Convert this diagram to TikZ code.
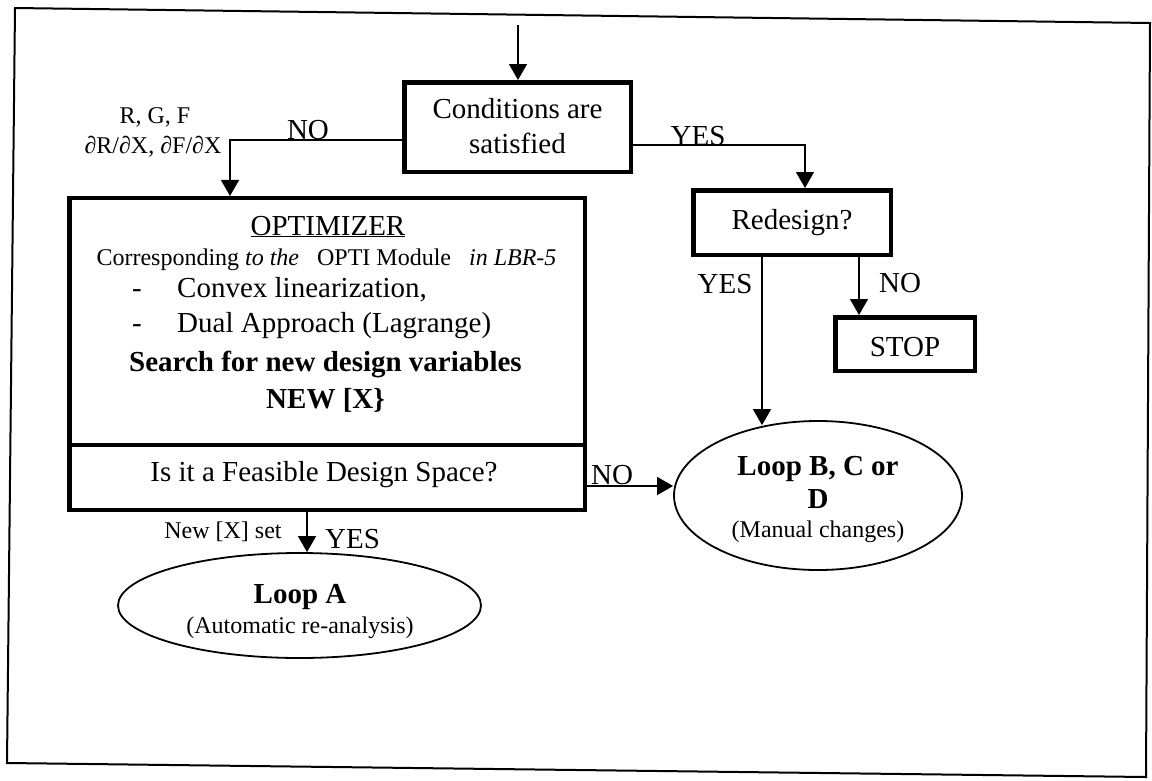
\documentclass[tikz,border=0pt]{standalone}
\usepackage{fontspec}
\setmainfont{Liberation Serif}
\usetikzlibrary{arrows.meta,shapes.geometric}
\newcommand\fbig{\fontsize{29}{35}\selectfont}
\newcommand\fsmall{\fontsize{24}{29}\selectfont}
\begin{document}
\begin{tikzpicture}[x=1pt,y=-1pt,
  box/.style={draw, rectangle, line width=4.5pt, inner sep=0pt},
  oval/.style={draw, ellipse, line width=1.8pt, inner sep=0pt},
  txt/.style={inner sep=0pt, anchor=base, font=\fbig},
  small/.style={font=\fsmall},
  bold/.style={font=\fbig\bfseries},
  arr/.style={line width=1.4pt, -{Triangle[length=16pt,width=18pt]}},
  frame/.style={line width=2pt, line join=miter}]
\useasboundingbox (0,0) rectangle (1152,780);
\draw[frame] (15,8) -- (1150,23) -- (1146,777) -- (7,763) -- cycle;

% boxes
\node[box, minimum width=226.5pt, minimum height=89.5pt] (cond) at (517.5,127) {};
\node[txt] (condA) at (517.5,118) {Conditions are};
\node[txt] (condB) at (517.5,153) {satisfied};

\node[box, minimum width=197.5pt, minimum height=64.5pt] (red) at (792,222.5) {};
\node[txt] (redT) at (792,229) {Redesign?};

\node[box, minimum width=139.5pt, minimum height=53.5pt] (stop) at (905,344) {};
\node[txt] (stopT) at (905,356) {STOP};

\node[box, minimum width=515.5pt, minimum height=246.75pt] (opt) at (327,321.6) {};
\node[box, minimum width=515.5pt, minimum height=64.75pt] (feas) at (327,477.4) {};

\node[txt] (optT) at (328,235) {\underline{OPTIMIZER}};
\node[txt, small] (corr) at (326.5,265) {Corresponding \textit{to the}\hspace{18pt}OPTI Module\hspace{18pt}\textit{in LBR-5}};
\node[txt] (d1) at (137,297) {-};
\node[txt, anchor=base west] (l1) at (177,297) {Convex linearization,};
\node[txt] (d2) at (137,332) {-};
\node[txt, anchor=base west] (l2) at (177,332) {Dual Approach (Lagrange)};
\node[txt, bold] (srch) at (325.5,371) {Search for new design variables};
\node[txt, bold] (newx) at (325.5,408) {NEW [X\}};
\node[txt] (feasT) at (324,481) {Is it a Feasible Design Space?};

% ellipses
\node[oval, minimum width=288pt, minimum height=149pt] (lpb) at (818,495.5) {};
\node[txt, bold] (lpbA) at (818,475) {Loop B, C or};
\node[txt, bold] (lpbB) at (818,508) {D};
\node[txt, small] (lpbC) at (818,537) {(Manual changes)};

\node[oval, minimum width=363pt, minimum height=105pt] (lpa) at (299.5,605.5) {};
\node[txt, bold] (lpaA) at (300,603) {Loop A};
\node[txt, small] (lpaB) at (300,633) {(Automatic re-analysis)};

% labels
\node[txt, small] (rgf) at (155,123) {R, G, F};
\node[txt, small] (drx) at (153,153) {∂R/∂X, ∂F/∂X};
\node[txt] (no1) at (308,139) {NO};
\node[txt] (yes1) at (698,145) {YES};
\node[txt] (yes2) at (725,293) {YES};
\node[txt] (no2) at (900,292) {NO};
\node[txt] (no3) at (612,484) {NO};
\node[txt, small] (newset) at (223,538) {New [X] set};
\node[txt, anchor=base west] (yes3) at (325,548) {YES};

% connectors
\coordinate (topin) at (518,25);
\draw[arr] (topin) -- (topin |- cond.north);
\draw[arr] ([yshift=-13pt]cond.west) -| ([xshift=-97pt]opt.north);
\draw[arr] ([yshift=-18pt]cond.east) -| ([xshift=13pt]red.north);
\draw[arr, shorten >=-5pt] ([xshift=-30pt]red.south) -- ([xshift=-30pt]red.south |- lpb.north);
\draw[arr] ([xshift=67pt]red.south) -- ([xshift=-46pt]stop.north);
\draw[arr] ([yshift=-8.6pt]feas.east) -- ([yshift=-8.6pt]feas.east -| lpb.west);
\draw[arr] ([xshift=-20pt]feas.south) -- ([xshift=-20pt]feas.south |- lpa.north);
\end{tikzpicture}
\end{document}
